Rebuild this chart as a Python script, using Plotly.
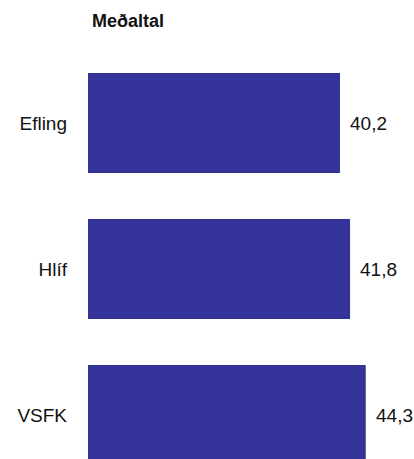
import plotly.graph_objects as go

categories = ["Efling", "Hlíf", "VSFK"]
values = [40.2, 41.8, 44.3]
value_labels = ["40,2", "41,8", "44,3"]
title_text = "Meðaltal"

BAR_COLOR = "#333399"
FONT = "Liberation Sans, Arial, sans-serif"

fig = go.Figure()
fig.add_trace(go.Bar(
    x=values,
    y=categories,
    orientation="h",
    marker=dict(color=BAR_COLOR, line=dict(width=0)),
    hoverinfo="skip",
))

for cat, v, lbl in zip(categories, values, value_labels):
    fig.add_annotation(
        x=v, y=cat, xref="x", yref="y",
        text=lbl, showarrow=False,
        xanchor="left", yanchor="middle", xshift=8, yshift=-1,
        font=dict(family=FONT, size=19, color="#111111"),
    )

fig.update_layout(
    width=414, height=459,
    margin=dict(l=88, r=0, t=40, b=0),
    paper_bgcolor="white", plot_bgcolor="white",
    showlegend=False,
    bargap=0.315,
    title=dict(
        text="<b>" + title_text + "</b>",
        font=dict(family=FONT, size=18, color="#111111"),
        xref="container", x=92 / 414, xanchor="left",
        yref="container", y=1 - 21 / 459, yanchor="middle",
    ),
    xaxis=dict(
        range=[0, 52.0], visible=False, showgrid=False, zeroline=False,
    ),
    yaxis=dict(
        range=[2.3014, -0.568],
        showgrid=False, zeroline=False, showline=False, ticks="",
        ticklabelstandoff=20,
        tickfont=dict(family=FONT, size=19, color="#111111"),
    ),
)

fig.write_html(
    "out.html",
    config={"displayModeBar": False, "staticPlot": True},
    post_script="document.body.style.margin='0';document.body.style.overflow='hidden';",
)
